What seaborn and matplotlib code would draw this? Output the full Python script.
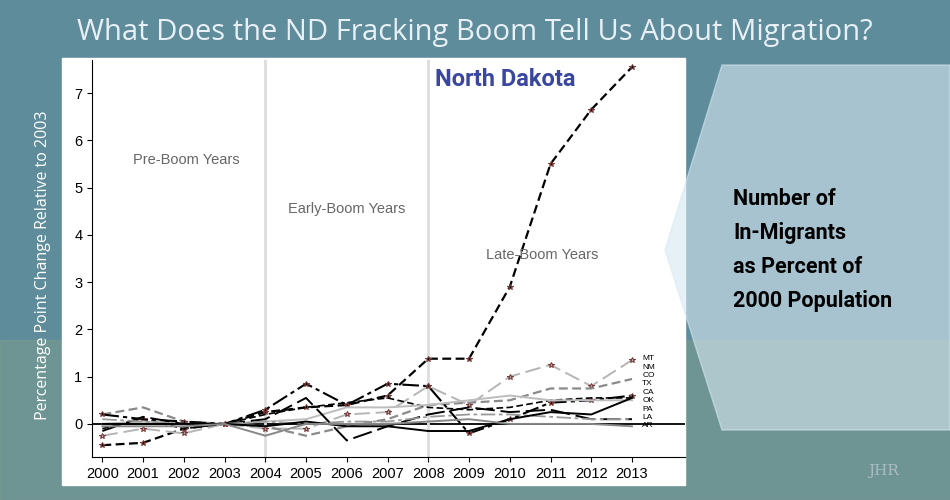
import numpy as np
import pandas as pd
import matplotlib
matplotlib.use('Agg')
import matplotlib.pyplot as plt
import matplotlib.patches as mpatches
import seaborn as sns

years = list(range(2000, 2014))
nd = [-0.45, -0.4, -0.1, 0, 0.25, 0.35, 0.4, 0.6, 1.38, 1.38, 2.9, 5.5, 6.65, 7.55]
mt = [-0.25, -0.1, -0.2, 0, -0.1, -0.1, 0.2, 0.25, 0.8, 0.4, 1.0, 1.25, 0.8, 1.35]
nm = [0.2, 0.35, 0.05, 0, -0.05, -0.25, -0.05, 0.1, 0.4, 0.45, 0.5, 0.75, 0.75, 0.95]
co = [0.2, 0.1, 0.05, 0, 0.3, 0.85, 0.4, 0.85, 0.8, -0.2, 0.1, 0.45, 0.5, 0.6]
tx = [-0.1, 0.1, -0.1, 0, 0.2, 0.35, 0.45, 0.55, 0.35, 0.3, 0.35, 0.5, 0.55, 0.55]
ca = [0.0, 0.05, 0.0, 0, 0.05, 0.1, 0.35, 0.35, 0.4, 0.5, 0.6, 0.5, 0.5, 0.5]
ok = [-0.15, 0.15, 0.0, 0, 0.1, 0.55, -0.35, -0.05, 0.2, 0.35, 0.25, 0.3, 0.1, 0.1]
pa = [0.1, 0.05, 0.0, 0, 0.05, 0.0, 0.05, 0.05, 0.15, 0.2, 0.2, 0.15, 0.1, 0.1]
la = [0.0, 0.0, 0.0, 0, -0.05, 0.05, -0.05, -0.05, -0.15, -0.15, 0.1, 0.25, 0.2, 0.55]
ar = [-0.05, -0.05, -0.05, 0, -0.25, 0.0, 0.0, 0.0, 0.05, 0.1, 0.0, 0.0, 0.0, -0.05]

series = {'ND': nd, 'MT': mt, 'NM': nm, 'CO': co, 'TX': tx, 'CA': ca,
          'OK': ok, 'PA': pa, 'LA': la, 'AR': ar}
styles = {
    'ND': ('black', (0, (4, 2)), 1.6),
    'MT': ('#b5b5b5', (0, (8, 3)), 1.4),
    'NM': ('#8a8a8a', (0, (4, 2)), 1.6),
    'CO': ('black', (0, (8, 2, 2, 2)), 1.5),
    'TX': ('black', (0, (4, 2)), 1.2),
    'CA': ('#bdbdbd', '-', 1.4),
    'OK': ('black', (0, (10, 3)), 1.4),
    'PA': ('#999999', (0, (8, 2, 2, 2)), 1.3),
    'LA': ('black', '-', 1.4),
    'AR': ('#888888', '-', 1.4),
}
starred = {'ND', 'MT', 'CO'}
label_states = ['MT', 'NM', 'CO', 'TX', 'CA', 'OK', 'PA', 'LA', 'AR']

df = pd.DataFrame([(k, y, v) for k, vals in series.items() for y, v in zip(years, vals)],
                  columns=['state', 'year', 'value'])

fig = plt.figure(figsize=(9.5, 5), dpi=100)
fig.patch.set_facecolor('#5f8c9b')
fig.patches.append(mpatches.Rectangle((0, 0), 1, 0.32, transform=fig.transFigure,
                                      color='#7e9c8e', alpha=0.5, zorder=0))
fig.patches.append(mpatches.Rectangle((0.065, 0.03), 0.656, 0.854, transform=fig.transFigure,
                                      color='white', zorder=1))
arrow = mpatches.Polygon([(0.70, 0.5), (0.76, 0.87), (1.0, 0.87), (1.0, 0.14), (0.76, 0.14)],
                         closed=True, transform=fig.transFigure, color='#d6e8f2', alpha=0.6, zorder=1)
fig.patches.append(arrow)

ax = fig.add_axes([0.097, 0.086, 0.624, 0.794])
ax.set_zorder(2)
ax.patch.set_alpha(0)
for st in series:
    c, ls, lw = styles[st]
    sub = df[df.state == st]
    sns.lineplot(data=sub, x='year', y='value', ax=ax, color=c, linestyle=ls, linewidth=lw,
                 marker='*' if st in starred else None, markersize=4,
                 markeredgecolor='#7a3a3a', legend=False)

# stacked end labels, as in the original (top = MT, bottom = AR)
for i, st in enumerate(label_states):
    ax.text(2013.25, 1.38 - i * 0.178, st, fontsize=6, va='center', ha='left',
            family='Liberation Sans')

ax.axhline(0, color='black', lw=1.3, zorder=0)
for x in (2004, 2008):
    ax.axvline(x, color='#dddddd', lw=2, zorder=0)
ax.set_xlim(1999.75, 2014.3)
ax.set_ylim(-0.7, 7.7)
ax.set_xticks(years)
ax.set_yticks(range(8))
ax.tick_params(labelsize=10.5)
for t in ax.get_xticklabels() + ax.get_yticklabels():
    t.set_family('Liberation Sans')
ax.set_xlabel('')
ax.set_ylabel('')
for s in ['top', 'right']:
    ax.spines[s].set_visible(False)

ax.text(2002.05, 5.5, 'Pre-Boom Years', color='#666666', fontsize=10.5, ha='center', family='Liberation Sans')
ax.text(2006.0, 4.47, 'Early-Boom Years', color='#666666', fontsize=10.5, ha='center', family='Liberation Sans')
ax.text(2010.8, 3.48, 'Late-Boom Years', color='#666666', fontsize=10.5, ha='center', family='Liberation Sans')
ax.text(2009.9, 7.15, 'North Dakota', color='#3a47a0', fontsize=17, fontweight='bold', ha='center',
        family='Roboto')

fig.text(0.5, 0.935, 'What Does the ND Fracking Boom Tell Us About Migration?', color='#e8f0f6',
         fontsize=21, ha='center', va='center', family='Open Sans')
fig.text(0.045, 0.47, 'Percentage Point Change Relative to 2003', color='white', fontsize=11.5,
         rotation=90, ha='center', va='center', family='Open Sans')
fig.text(0.772, 0.5, 'Number of\nIn-Migrants\nas Percent of\n2000 Population', color='black',
         fontsize=15.5, fontweight='bold', ha='left', va='center', linespacing=1.7, family='Roboto')
fig.text(0.93, 0.05, 'JHR', color='#a9bcc4', fontsize=11, ha='center', family='DejaVu Serif')

fig.savefig('out.png', dpi=100)
